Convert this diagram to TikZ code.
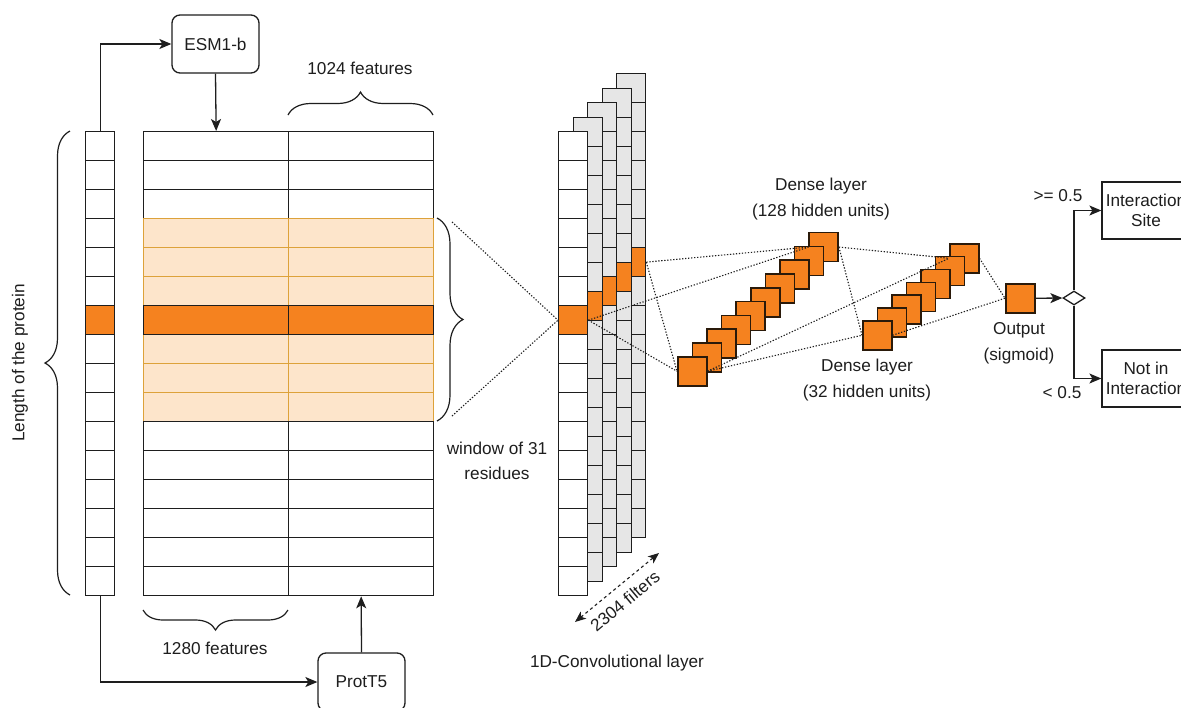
\documentclass[tikz,border=0pt]{standalone}
\usepackage{fontspec}
\setmainfont{Liberation Sans}
\usetikzlibrary{shapes.geometric,arrows.meta,decorations.pathreplacing}

\definecolor{accent}{HTML}{F5821F}
\definecolor{winfill}{HTML}{FDE5CB}
\definecolor{winline}{HTML}{DDA23A}
\definecolor{filtfill}{HTML}{E6E6E6}
\definecolor{ink}{HTML}{1E1E1E}
\definecolor{unitedge}{HTML}{2A1A0A}

\tikzset{
  x=1pt, y=-1pt,
  every node/.style={font=\fontsize{17.2}{20.6}\selectfont, text=ink},
  lbl/.style={inner sep=0pt},
  cell/.style={draw=ink, line width=1.3pt, minimum width=29pt, minimum height=29pt,
    inner sep=0pt, anchor=north west},
  tcell/.style={line width=1.3pt, minimum width=145pt, minimum height=29pt,
    inner sep=0pt, anchor=north west},
  unit/.style={draw=unitedge, fill=accent, line width=1.5pt, minimum width=29pt,
    minimum height=29pt, inner sep=0pt, anchor=north west},
  model/.style={draw=ink, line width=1.3pt, rounded corners=8pt, fill=white,
    minimum width=87pt, minimum height=58pt, inner sep=0pt},
  result/.style={draw=ink, line width=1.3pt, fill=white, minimum width=88pt,
    minimum height=57pt, inner sep=0pt, align=center},
  arr/.style={draw=ink, line width=1.3pt, -{Stealth[length=12pt,width=10pt,inset=3pt]}},
  link/.style={draw=ink, line width=1.1pt, dash pattern=on 1.3pt off 1.7pt},
  curly/.style={draw=ink, line width=1.2pt, decorate,
    decoration={brace, amplitude=#1}},
}

\begin{document}
\begin{tikzpicture}
\useasboundingbox (0,0) rectangle (1181,707);
\fill[white] (0,0) rectangle (1181,707);
\clip (0,0) rectangle (1181,707);

% residue column
\foreach \i in {0,...,15} {
  \ifnum\i=6 \def\cf{accent}\else\def\cf{white}\fi
  \node[cell, fill=\cf] (L\i) at (85,{131+29*\i}) {};
}

% embedding table: plain rows and window rows first, centre row on top
\foreach \i in {0,1,2,3,4,5,7,8,9,10,11,12,13,14,15} {
  \ifnum\i<3 \def\cf{white}\def\cd{ink}\else
    \ifnum\i<10 \def\cf{winfill}\def\cd{winline}\else
      \def\cf{white}\def\cd{ink}\fi\fi
  \node[tcell, fill=\cf, draw=\cd] (A\i) at (143,{131+29*\i}) {};
  \node[tcell, fill=\cf, draw=\cd] (B\i) at (288,{131+29*\i}) {};
}
\node[tcell, fill=accent, draw=ink] (A6) at (143,305) {};
\node[tcell, fill=accent, draw=ink] (B6) at (288,305) {};

% language models
\node[model] (esm) at (215.5,44) {ESM1-b};
\node[model] (prot) at (361.5,682) {ProtT5};
\draw[arr] (L0.north) |- (esm.west);
\draw[arr] (esm.south) -- (A0.north);
\draw[arr] (L15.south) |- (prot.west);
\draw[arr] (prot.north) -- (B15.south);

% braces and their labels
\draw[curly=25pt] (70,595) -- (70,131);
\node[lbl, rotate=90] (len) at (20,363) {Length of the protein};
\draw[curly=23pt] (288,115) -- (433,115);
\node[lbl] (f1024) at (360,68) {1024 features};
\draw[curly=20pt] (288,610) -- (143,610);
\node[lbl] (f1280) at (215,648) {1280 features};
\draw[curly=26pt] (437,218) -- (437,421);
\node[lbl, align=center, font=\fontsize{17.2}{25}\selectfont] (win) at (497,461)
  {window of 31\\residues};
\coordinate (wt) at (452,222);
\coordinate (wb) at (452,416);

% convolution filters, back to front
\foreach \k in {4,3,2,1} {
  \foreach \i in {0,...,15} {
    \ifnum\i=6 \def\cf{accent}\else\def\cf{filtfill}\fi
    \node[cell, fill=\cf] (C\k-\i) at ({558+14.5*\k},{131-14.5*\k+29*\i}) {};
  }
}
\foreach \i in {0,...,15} {
  \ifnum\i=6 \def\cf{accent}\else\def\cf{white}\fi
  \node[cell, fill=\cf] (C0-\i) at (558,{131+29*\i}) {};
}
\node[lbl] (convlbl) at (617,663) {1D-Convolutional layer};
\coordinate (fa) at (575,622);
\coordinate (fb) at (659,553);
\draw[draw=ink, line width=1.1pt, dashed,
  {Stealth[length=11pt,width=9pt,inset=3pt]}-{Stealth[length=11pt,width=9pt,inset=3pt]}] (fa) -- (fb);
\node[lbl, rotate=40] (filters) at (625,601) {2304 filters};

% dense layers
\foreach \j in {9,8,...,0}
  \node[unit] (D\j) at ({677+14.6*\j},{356-13.8*\j}) {};
\foreach \j in {6,5,...,0}
  \node[unit] (E\j) at ({862+14.5*\j},{320-12.83*\j}) {};
\node[unit] (out) at (1005,283) {};

\node[lbl, align=center, font=\fontsize{17.2}{26}\selectfont] (d1lbl) at (821,199)
  {Dense layer\\(128 hidden units)};
\node[lbl, align=center, font=\fontsize{17.2}{26}\selectfont] (d2lbl) at (867,380)
  {Dense layer\\(32 hidden units)};
\node[lbl, align=center, font=\fontsize{17.2}{26}\selectfont] (outlbl) at (1019,343)
  {Output\\(sigmoid)};

% connections between layers
\draw[link] (wt) -- (C0-6.west);
\draw[link] (wb) -- (C0-6.west);
\draw[link] (C0-6.east) -- (D9.west);
\draw[link] (C0-6.east) -- (D0.west);
\draw[link] (C4-6.east) -- (D9.west);
\draw[link] (C4-6.east) -- (D0.west);
\draw[link] (D9.east) -- (E6.west);
\draw[link] (D9.east) -- (E0.west);
\draw[link] (D0.east) -- (E6.west);
\draw[link] (D0.east) -- (E0.west);
\draw[link] (E6.east) -- (out.west);
\draw[link] (E0.east) -- (out.west);

% decision
\node[diamond, draw=ink, line width=1.3pt, fill=white, minimum width=22pt,
  minimum height=14pt, inner sep=0pt] (dec) at (1074,298) {};
\node[result] (site) at (1146,210.5) {Interaction\\Site};
\node[result] (notin) at (1146,378.5) {Not in\\Interaction};
\draw[arr] (out.east) -- (dec.west);
\draw[arr] (dec.north) |- (site.west);
\draw[arr] (dec.south) |- (notin.west);
\node[lbl] (hi) at (1058,196) {>= 0.5};
\node[lbl] (lo) at (1062,393) {< 0.5};
\end{tikzpicture}
\end{document}
